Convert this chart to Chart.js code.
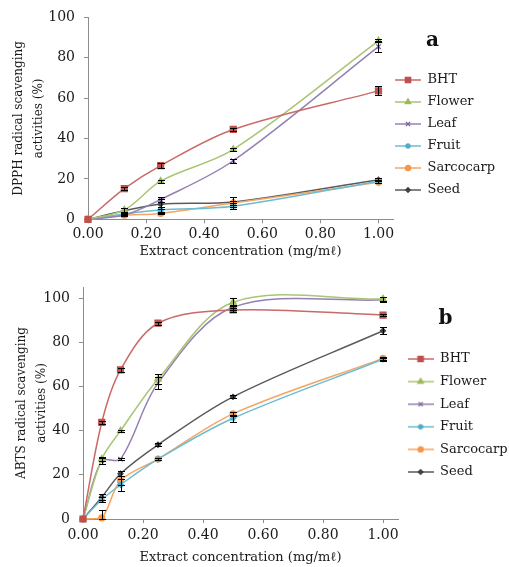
<!DOCTYPE html>
<html><head><meta charset="utf-8">
<script src="https://cdn.jsdelivr.net/npm/chart.js@4"></script>
<style>
html,body{margin:0;padding:0;background:#fff;}
#wa{position:absolute;left:0;top:0;width:509px;height:262px;}
#wb{position:absolute;left:0;top:262px;width:509px;height:305px;}
</style>
</head><body>
<div id="wa"><canvas id="ca" width="509" height="262"></canvas></div>
<div id="wb"><canvas id="cb" width="509" height="305"></canvas></div>
<script>
// ---------- data ----------
const seriesNames = ['BHT', 'Flower', 'Leaf', 'Fruit', 'Sarcocarp', 'Seed'];
const concA = [0, 0.125, 0.25, 0.5, 1.0];
const concB = [0, 0.0625, 0.125, 0.25, 0.5, 1.0];
const xTickValues = [0, 0.2, 0.4, 0.6, 0.8, 1.0];
const yTickValues = [0, 20, 40, 60, 80, 100];

// DPPH (panel a)
const dpphBHT       = [0, 15.2, 26.6, 44.5, 63.6];
const dpphFlower    = [0, 4.6, 18.9, 34.6, 88.4];
const dpphLeaf      = [0, 2.1, 9.8, 29.0, 85.5];
const dpphFruit     = [0, 2.6, 4.6, 6.5, 18.9];
const dpphSarcocarp = [0, 2.0, 2.9, 8.1, 18.3];
const dpphSeed      = [0, 4.2, 7.5, 8.6, 19.6];
const dpphErrBHT       = [0, 0.7, 1.2, 0.8, 2.2];
const dpphErrFlower    = [0, 0.8, 0.8, 0.8, 0.7];
const dpphErrLeaf      = [0, 0.5, 1.2, 1.0, 2.8];
const dpphErrFruit     = [0, 0.5, 1.5, 1.5, 0.8];
const dpphErrSarcocarp = [0, 0.5, 0.5, 1.0, 0.5];
const dpphErrSeed      = [0, 1.5, 2.5, 2.5, 0.7];

// ABTS (panel b)
const abtsBHT       = [0, 43.7, 67.5, 88.6, 94.6, 92.3];
const abtsFlower    = [0, 27.1, 39.9, 63.3, 98.1, 99.6];
const abtsLeaf      = [0, 26.3, 27.1, 61.5, 95.8, 99.2];
const abtsFruit     = [0, 8.7, 15.5, 27.1, 45.6, 72.3];
const abtsSarcocarp = [0, 0.5, 17.4, 27.1, 47.6, 72.7];
const abtsSeed      = [0, 9.9, 20.5, 33.6, 55.3, 85.2];
const abtsErrBHT       = [0, 0.8, 0.8, 0.6, 0.8, 0.6];
const abtsErrFlower    = [0, 1.0, 0.6, 2.2, 1.8, 1.0];
const abtsErrLeaf      = [0, 1.5, 0.5, 2.8, 1.2, 1.2];
const abtsErrFruit     = [0, 1.2, 2.8, 0.6, 1.5, 0.6];
const abtsErrSarcocarp = [0, 3.5, 2.0, 0.6, 1.0, 0.6];
const abtsErrSeed      = [0, 1.2, 1.2, 0.6, 0.6, 1.5];

// ---------- styles ----------
const seriesStyle = [
  {color: '#C0504D', line: '#C96A68', pointStyle: 'rect',     radius: 4.2},
  {color: '#9BBB59', line: '#A9C574', pointStyle: 'triangle', radius: 3.6},
  {color: '#8064A2', line: '#9480B2', pointStyle: 'crossRot', radius: 3.2},
  {color: '#4BACC6', line: '#6CBCD1', pointStyle: 'star',     radius: 3.3},
  {color: '#F79646', line: '#F6A464', pointStyle: 'circle',   radius: 2.9},
  {color: '#404040', line: '#5A5A5A', pointStyle: 'rectRot',  radius: 2.5}
];

const FAMILY = '"DejaVu Serif", "Liberation Serif", serif';
Chart.defaults.font.family = FAMILY;
Chart.defaults.color = '#1a1a1a';
const AXIS = '#8c8c8c';

function legendIcon(st) {
  const c = document.createElement('canvas');
  c.width = 26; c.height = 10;
  const g = c.getContext('2d');
  g.strokeStyle = st.line; g.lineWidth = 1.5;
  g.beginPath(); g.moveTo(0, 5); g.lineTo(26, 5); g.stroke();
  g.fillStyle = st.color; g.strokeStyle = st.color; g.lineWidth = 1.3;
  Chart.helpers.drawPoint(g, {pointStyle: st.pointStyle, radius: st.radius * 0.9, rotation: 0, borderWidth: 1.3}, 13, 5);
  return c;
}

const errorBars = {
  id: 'errorBars',
  afterDatasetsDraw(chart) {
    const ctx = chart.ctx, ys = chart.scales.y;
    ctx.save();
    ctx.strokeStyle = '#000'; ctx.lineWidth = 1;
    chart.data.datasets.forEach((ds, i) => {
      const meta = chart.getDatasetMeta(i);
      ds.errors.forEach((e, j) => {
        if (!e) return;
        const v = ds.data[j].y;
        const px = Math.round(meta.data[j].x) + 0.5;
        const t = Math.round(ys.getPixelForValue(v + e)) + 0.5;
        const b = Math.round(ys.getPixelForValue(Math.max(v - e, 0))) + 0.5;
        ctx.beginPath();
        ctx.moveTo(px, t); ctx.lineTo(px, b);
        ctx.moveTo(px - 3.5, t); ctx.lineTo(px + 3.5, t);
        ctx.moveTo(px - 3.5, b); ctx.lineTo(px + 3.5, b);
        ctx.stroke();
      });
    });
    ctx.restore();
  }
};

const legendShift = {
  id: 'legendShift',
  afterLayout(chart, args, o) { if (chart.legend) chart.legend.left += (o.dx || 0); }
};

const panelLetter = {
  id: 'panelLetter',
  afterDraw(chart, args, o) {
    const lg = chart.legend, lo = lg.options.labels;
    const ctx = chart.ctx;
    ctx.save();
    ctx.font = 'bold 20px ' + FAMILY;
    ctx.fillStyle = '#111';
    ctx.textBaseline = 'alphabetic';
    ctx.textAlign = 'left';
    ctx.fillText(o.text, lg.left + lo.padding + lo.pointStyleWidth + 5, o.baseline);
    ctx.restore();
  }
};

function buildChart(id, cfg) {
  const datasets = cfg.series.map((vals, i) => {
    const st = seriesStyle[i];
    return {
      label: seriesNames[i],
      data: vals.map((v, j) => ({x: cfg.conc[j], y: v})),
      errors: cfg.errors[i],
      borderColor: st.line,
      backgroundColor: st.color,
      pointBackgroundColor: st.color,
      pointBorderColor: st.color,
      pointBorderWidth: 1.3,
      pointStyle: st.pointStyle,
      pointRadius: st.radius,
      borderWidth: 1.5,
      tension: 0.33,
      clip: false,
      icon: legendIcon(st)
    };
  });
  return new Chart(document.getElementById(id), {
    type: 'line',
    data: {datasets},
    plugins: [errorBars, legendShift, panelLetter],
    options: {
      responsive: false,
      animation: false,
      events: [],
      font: {family: FAMILY},
      layout: {padding: {left: 0, right: 0, top: cfg.top, bottom: 0}},
      plugins: {
        tooltip: {enabled: false},
        legendShift: {dx: cfg.legendDx},
        panelLetter: {text: cfg.letter, baseline: cfg.letterBaseline},
        legend: {
          position: 'right',
          align: 'start',
          maxWidth: cfg.legendWidth,
          title: {display: true, text: '', font: {family: FAMILY, size: 10, lineHeight: 1.2}, padding: {top: cfg.legendTop - 12, bottom: 0}},
          labels: {
            usePointStyle: true,
            pointStyleWidth: 26,
            padding: cfg.legendPad,
            font: {family: FAMILY, size: 13},
            color: '#1a1a1a',
            generateLabels(chart) {
              return chart.data.datasets.map((ds, i) => ({
                text: ds.label, pointStyle: ds.icon, fillStyle: ds.backgroundColor,
                strokeStyle: ds.borderColor, lineWidth: 0, hidden: false, datasetIndex: i,
                fontColor: '#1a1a1a'
              }));
            }
          }
        }
      },
      scales: {
        x: {
          type: 'linear', min: 0, max: 1.05,
          afterBuildTicks(s) { s.ticks = xTickValues.map(v => ({value: v})); },
          afterFit(s) { s.height = cfg.xHeight; },
          ticks: {font: {family: FAMILY, size: 14}, padding: cfg.xTickPad, color: '#1a1a1a', callback: v => v.toFixed(2)},
          grid: {display: true, drawOnChartArea: false, drawTicks: true, tickLength: 4, color: AXIS},
          border: {display: true, color: AXIS, width: 1},
          title: {display: true, text: 'Extract concentration (mg/mℓ)', font: {family: FAMILY, size: 13, lineHeight: 1.2}, color: '#1a1a1a', padding: {top: 0, bottom: cfg.xTitlePad}}
        },
        y: {
          type: 'linear', min: 0, max: cfg.yMax,
          afterBuildTicks(s) { s.ticks = yTickValues.map(v => ({value: v})); },
          afterFit(s) { s.width = cfg.yWidth; },
          ticks: {font: {family: FAMILY, size: 14}, padding: 9, color: '#1a1a1a'},
          grid: {display: true, drawOnChartArea: false, drawTicks: true, tickLength: 4, color: AXIS},
          border: {display: true, color: AXIS, width: 1},
          title: {display: true, text: cfg.yTitle, font: {family: FAMILY, size: 12, lineHeight: 1.6667}, color: '#1a1a1a', padding: {top: cfg.yTitlePad, bottom: 0}}
        }
      }
    }
  });
}

buildChart('ca', {
  conc: concA,
  series: [dpphBHT, dpphFlower, dpphLeaf, dpphFruit, dpphSarcocarp, dpphSeed],
  errors: [dpphErrBHT, dpphErrFlower, dpphErrLeaf, dpphErrFruit, dpphErrSarcocarp, dpphErrSeed],
  yTitle: ['DPPH radical scavenging', 'activities (%)'],
  yMax: 100, top: 15, yWidth: 88, xHeight: 42.7, xTickPad: 3, xTitlePad: 2.2, yTitlePad: 9,
  legendWidth: 116, legendDx: -7, legendPad: 9, legendTop: 49.5,
  letter: 'a', letterBaseline: 45.5
});

buildChart('cb', {
  conc: concB,
  series: [abtsBHT, abtsFlower, abtsLeaf, abtsFruit, abtsSarcocarp, abtsSeed],
  errors: [abtsErrBHT, abtsErrFlower, abtsErrLeaf, abtsErrFruit, abtsErrSarcocarp, abtsErrSeed],
  yTitle: ['ABTS radical scavenging', 'activities (%)'],
  yMax: 105, top: 25, yWidth: 83, xHeight: 48, xTickPad: 4, xTitlePad: 1.2, yTitlePad: 11.7,
  legendWidth: 111, legendDx: 0, legendPad: 9.6, legendTop: 55.9,
  letter: 'b', letterBaseline: 62
});
</script>
</body></html>
